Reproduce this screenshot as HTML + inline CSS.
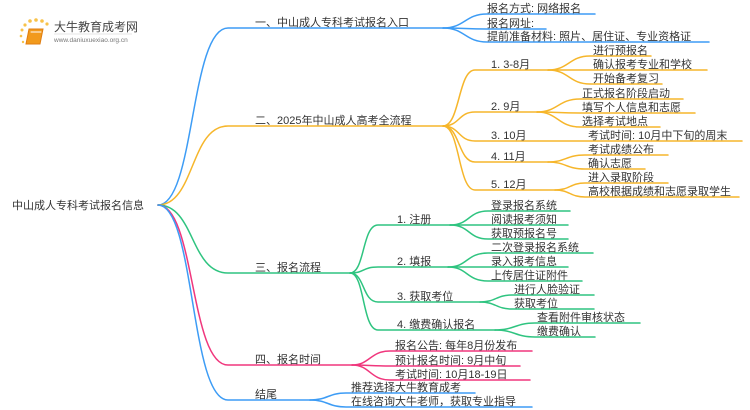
<!DOCTYPE html>
<html><head><meta charset="utf-8"><style>
html,body{margin:0;padding:0;background:#fff;}
svg{display:block}
text{font-family:"Liberation Sans","Noto Sans CJK SC",sans-serif;font-size:11px;fill:#333;}
path{fill:none;stroke-width:1.5;stroke-linecap:round}
.b path{stroke:#3d9cf5}.o path{stroke:#f6b62b}.g path{stroke:#2fc480}.p path{stroke:#f0377d}
</style></head><body>
<svg width="750" height="410" viewBox="0 0 750 410" xmlns="http://www.w3.org/2000/svg">
<g>
<circle cx="22" cy="30" r="1.5" fill="#f8c24a"/><circle cx="25" cy="25" r="1.6" fill="#f8c24a"/><circle cx="30" cy="21" r="1.8" fill="#f8c24a"/><circle cx="36" cy="20" r="1.8" fill="#f8c24a"/><circle cx="42" cy="21" r="1.8" fill="#f8c24a"/><circle cx="47" cy="24" r="1.6" fill="#f8c24a"/><circle cx="21" cy="36" r="1.3" fill="#f8c24a"/><circle cx="23" cy="42" r="1.2" fill="#f8c24a"/>
<path d="M29 29 L43 29 L40 44 L26 44 Z" style="fill:#f29a1c;stroke:#e07d10;stroke-width:1"/>
<path d="M31 32 L41 32" style="stroke:#fff;stroke-width:1"/>
<text x="54" y="31" style="font-size:12px;fill:#444">大牛教育成考网</text>
<line x1="54" y1="34" x2="132" y2="34" stroke="#ccc" stroke-width="0.5"/>
<text x="54" y="42" style="font-size:6.5px;fill:#777">www.daniuxuexiao.org.cn</text>
</g>
<text x="12" y="209">中山成人专科考试报名信息</text>

<g class="b">
<path d="M158 205 C195 205,190 28,228 28 H443"/>
<path d="M443 28 C465 28,465 14,487 14 H595"/>
<path d="M443 28 C465 28,465 29,487 29 H546"/>
<path d="M443 28 C465 28,465 42,487 42 H709"/>
</g>
<text x="255" y="26">一、中山成人专科考试报名入口</text>
<text x="487" y="12">报名方式: 网络报名</text>
<text x="487" y="27">报名网址:</text>
<text x="487" y="40">提前准备材料: 照片、居住证、专业资格证</text>

<g class="o">
<path d="M158 205 C195 205,190 126,228 126 H443"/>
<path d="M443 126 C460 126,458 70,475 70 H548"/>
<path d="M443 126 C460 126,458 112,475 112 H537"/>
<path d="M443 126 C460 126,458 141,475 141 H742"/>
<path d="M443 126 C460 126,458 162,475 162 H548"/>
<path d="M443 126 C460 126,458 190,475 190 H555"/>
<path d="M548 70 C569 70,569 56,590 56 H651"/>
<path d="M548 70 C569 70,569 70,590 70 H707"/>
<path d="M548 70 C569 70,569 84,590 84 H662"/>
<path d="M537 112 C558 112,558 99,580 99 H683"/>
<path d="M537 112 C558 112,558 113,580 113 H695"/>
<path d="M537 112 C558 112,558 127,580 127 H660"/>
<path d="M548 162 C566 162,566 155,585 155 H668"/>
<path d="M548 162 C566 162,566 169,585 169 H645"/>
<path d="M555 190 C570 190,570 183,585 183 H668"/>
<path d="M555 190 C570 190,570 197,585 197 H739"/>
</g>
<text x="255" y="124">二、2025年中山成人高考全流程</text>
<text x="491" y="68">1. 3-8月</text>
<text x="491" y="110">2. 9月</text>
<text x="491" y="139">3. 10月</text>
<text x="491" y="160">4. 11月</text>
<text x="491" y="188">5. 12月</text>
<text x="593" y="54">进行预报名</text>
<text x="593" y="68">确认报考专业和学校</text>
<text x="593" y="82">开始备考复习</text>
<text x="582" y="97">正式报名阶段启动</text>
<text x="582" y="111">填写个人信息和志愿</text>
<text x="582" y="125">选择考试地点</text>
<text x="588" y="139">考试时间: 10月中下旬的周末</text>
<text x="588" y="153">考试成绩公布</text>
<text x="588" y="167">确认志愿</text>
<text x="588" y="181">进入录取阶段</text>
<text x="588" y="195">高校根据成绩和志愿录取学生</text>

<g class="g">
<path d="M158 205 C195 205,190 273,228 273 H350"/>
<path d="M350 273 C365 273,362 225,378 225 H450"/>
<path d="M350 273 C365 273,362 267,378 267 H448"/>
<path d="M350 273 C365 273,362 302,378 302 H480"/>
<path d="M350 273 C365 273,362 330,378 330 H495"/>
<path d="M450 225 C470 225,468 211,488 211 H570"/>
<path d="M450 225 C470 225,468 225,488 225 H568"/>
<path d="M450 225 C470 225,468 239,488 239 H568"/>
<path d="M448 267 C468 267,466 253,488 253 H593"/>
<path d="M448 267 C468 267,466 267,488 267 H568"/>
<path d="M448 267 C468 267,466 281,488 281 H582"/>
<path d="M480 302 C496 302,496 295,512 295 H594"/>
<path d="M480 302 C496 302,496 309,512 309 H594"/>
<path d="M495 330 C515 330,515 323,535 323 H640"/>
<path d="M495 330 C515 330,515 337,535 337 H595"/>
</g>
<text x="255" y="271">三、报名流程</text>
<text x="397" y="223">1. 注册</text>
<text x="397" y="265">2. 填报</text>
<text x="397" y="300">3. 获取考位</text>
<text x="397" y="328">4. 缴费确认报名</text>
<text x="491" y="209">登录报名系统</text>
<text x="491" y="223">阅读报考须知</text>
<text x="491" y="237">获取预报名号</text>
<text x="491" y="251">二次登录报名系统</text>
<text x="491" y="265">录入报考信息</text>
<text x="491" y="279">上传居住证附件</text>
<text x="514" y="293">进行人脸验证</text>
<text x="514" y="307">获取考位</text>
<text x="537" y="321">查看附件审核状态</text>
<text x="537" y="335">缴费确认</text>

<g class="p">
<path d="M158 205 C195 205,190 365,228 365 H352"/>
<path d="M352 365 C370 365,370 351,390 351 H532"/>
<path d="M352 365 C370 365,370 366,390 366 H520"/>
<path d="M352 365 C370 365,370 380,390 380 H530"/>
</g>
<text x="255" y="363">四、报名时间</text>
<text x="395" y="349">报名公告: 每年8月份发布</text>
<text x="395" y="364">预计报名时间: 9月中旬</text>
<text x="395" y="378">考试时间: 10月18-19日</text>

<g class="b">
<path d="M158 205 C195 205,190 400,228 400 H310"/>
<path d="M310 400 C328 400,328 393,346 393 H475"/>
<path d="M310 400 C328 400,328 407,346 407 H532"/>
</g>
<text x="255" y="398">结尾</text>
<text x="351" y="391">推荐选择大牛教育成考</text>
<text x="351" y="405">在线咨询大牛老师，获取专业指导</text>
</svg>
</body></html>
